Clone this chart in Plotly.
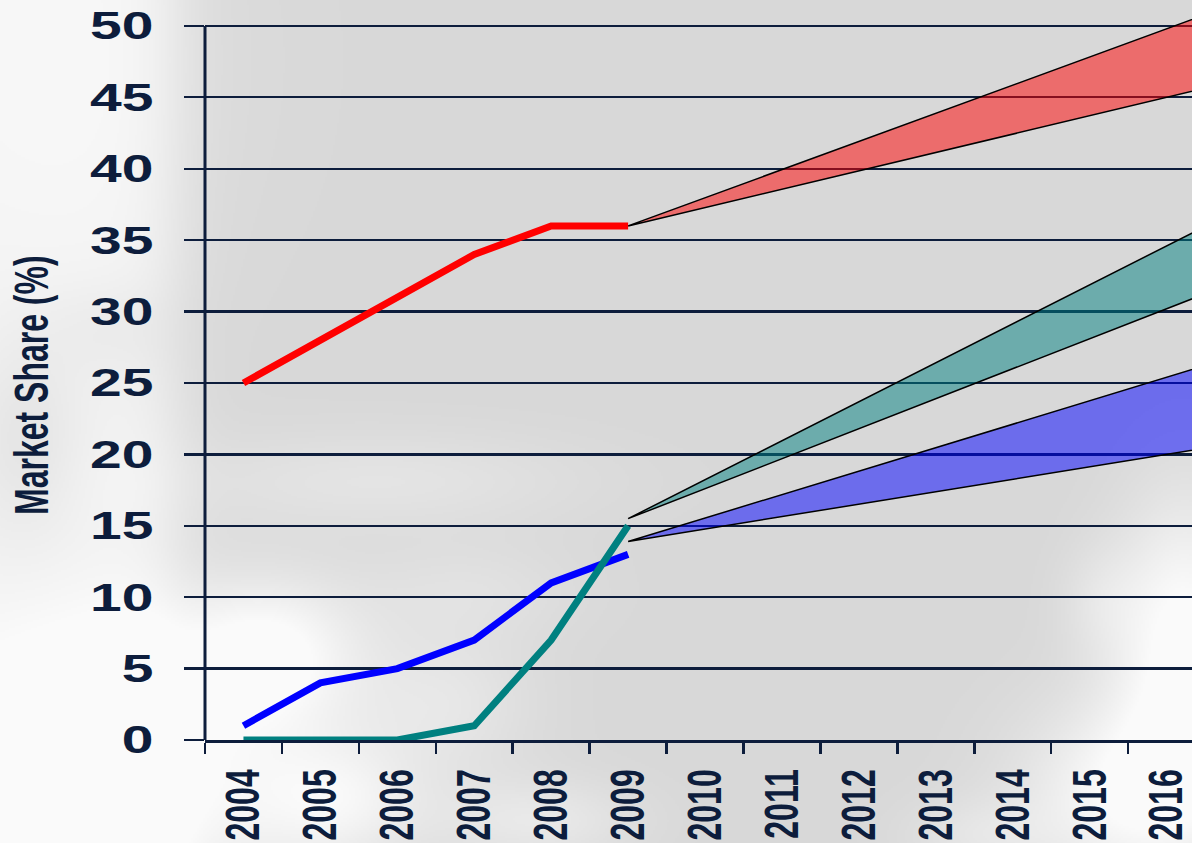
import base64
import struct
import zlib

import numpy as np
import plotly.graph_objects as go

# ---- data -------------------------------------------------------------
years = [2004, 2005, 2006, 2007, 2008, 2009]
red_share = [25, 28, 31, 34, 36, 36]
blue_share = [1, 4, 5, 7, 11, 13]
teal_share = [0, 0, 0, 1, 7, 15]

# forecast fans: value at the start year, and the low / high value reached in the end year
forecast_from = 2009
forecast_to = 2016
red_fan = [36, 45, 49.8]
teal_fan = [15.5, 30.2, 34.6]
blue_fan = [13.9, 20.0, 25.4]

tick_years = list(range(2004, 2017))
y_ticks = list(range(0, 51, 5))

# ---- style ------------------------------------------------------------
W, H = 1192, 843
ML, MB = 205, 103
NAVY = "#0d1d3c"
FONT = "Arial, Liberation Sans, sans-serif"
X_MIN, X_MAX = 2003.5, 2016.33
Y_MAX = 51.82
FAN_EDGE = 2016.8  # fans run on past the right edge of the plot


def sky_png(w, h, scale):
    """Soft grey sky with pale cloud banks, encoded as a greyscale PNG data URI."""
    xs = (np.arange(w) + 0.5) * scale
    ys = (np.arange(h) + 0.5) * scale
    X, Y = np.meshgrid(xs, ys)
    L = np.full((h, w), 216.0)

    def blob(cx, cy, sx, sy, amp):
        return amp * np.exp(-(((X - cx) / sx) ** 2 + ((Y - cy) / sy) ** 2) / 2)

    # pale left margin
    L += 26 / (1 + np.exp((X - 175) / 18))
    L += blob(60, 60, 150, 180, 6)
    # grey wisps behind the axis title
    L += blob(25, 440, 40, 70, -13)
    L += blob(110, 330, 50, 35, -7)
    # cloud bank bottom-left
    L += blob(265, 650, 65, 50, 32)
    L += blob(150, 775, 150, 100, 34)
    L += blob(340, 800, 55, 40, 18)
    # faint haze left of centre
    L += blob(380, 480, 150, 35, 12)
    L += blob(470, 590, 80, 35, 9)
    L += blob(450, 700, 60, 50, 12)
    L += blob(540, 820, 70, 30, 16)
    # cloud bank bottom-right
    L += blob(1185, 640, 50, 100, 38)
    L += blob(1140, 790, 80, 65, 36)
    L += blob(1100, 600, 30, 40, 10)
    L += blob(980, 835, 55, 28, 12)
    L = np.clip(L, 0, 250).astype(np.uint8)

    raw = b"".join(b"\x00" + L[i].tobytes() for i in range(h))

    def chunk(tag, data):
        body = tag + data
        return struct.pack(">I", len(data)) + body + struct.pack(">I", zlib.crc32(body) & 0xFFFFFFFF)

    png = (b"\x89PNG\r\n\x1a\n"
           + chunk(b"IHDR", struct.pack(">IIBBBBB", w, h, 8, 0, 0, 0, 0))
           + chunk(b"IDAT", zlib.compress(raw, 9))
           + chunk(b"IEND", b""))
    return "data:image/png;base64," + base64.b64encode(png).decode()


def fan_polygon(fan):
    start, low, high = fan
    span = forecast_to - forecast_from
    hi_edge = start + (high - start) * (FAN_EDGE - forecast_from) / span
    lo_edge = start + (low - start) * (FAN_EDGE - forecast_from) / span
    xs = [forecast_from, FAN_EDGE, FAN_EDGE, forecast_from]
    ys = [start, hi_edge, lo_edge, start]
    return xs, ys


fig = go.Figure()

series = [
    ("red", red_share, red_fan, "#ff0000", "rgba(255,0,0,0.5)"),
    ("teal", teal_share, teal_fan, "#008080", "rgba(0,128,128,0.5)"),
    ("blue", blue_share, blue_fan, "#0000ff", "rgba(0,0,255,0.5)"),
]

for name, vals, fan, col, fill in series:
    fx, fy = fan_polygon(fan)
    fig.add_trace(go.Scatter(
        x=fx, y=fy, mode="lines", fill="toself", fillcolor=fill,
        line=dict(color="black", width=1.5), hoverinfo="skip", showlegend=False,
    ))

for name, vals, fan, col, fill in [series[2], series[1], series[0]]:
    fig.add_trace(go.Scatter(
        x=years, y=vals, mode="lines", name=name,
        line=dict(color=col, width=7), showlegend=False,
    ))

plot_w = W - ML
plot_h = H - MB

fig.update_layout(
    width=W, height=H,
    margin=dict(l=ML, r=0, t=0, b=MB, pad=0, autoexpand=False),
    paper_bgcolor="#d9d9d9",
    plot_bgcolor="rgba(0,0,0,0)",
    showlegend=False,
    images=[dict(
        source=sky_png(W // 2, H // 2 + 1, 2),
        xref="paper", yref="paper",
        x=-ML / plot_w, y=1.0,
        sizex=W / plot_w, sizey=(H + 2) / plot_h,
        xanchor="left", yanchor="top",
        sizing="stretch", layer="below",
    )],
    xaxis=dict(
        range=[X_MIN, X_MAX],
        tickmode="array", tickvals=tick_years, ticktext=[str(y) for y in tick_years],
        ticks="", tickangle=-90,
        tickfont=dict(family=FONT, size=32, color=NAVY, weight="bold"),
        ticklabelstandoff=14,
        showgrid=False, zeroline=False, automargin=False,
        showline=True, linecolor=NAVY, linewidth=2.5,
        minor=dict(tickmode="array", tickvals=[y - 0.5 for y in tick_years] + [2016.5],
                   ticks="outside", ticklen=11, tickwidth=2.5, tickcolor=NAVY, showgrid=False),
        fixedrange=True,
    ),
    yaxis=dict(
        range=[0, Y_MAX],
        tickmode="array", tickvals=y_ticks, ticktext=[str(v) for v in y_ticks],
        ticks="outside", ticklen=20, tickwidth=2.2, tickcolor=NAVY,
        tickfont=dict(family=FONT, size=38, color=NAVY, weight="bold"),
        ticklabelstandoff=23,
        showgrid=True, gridcolor=NAVY, gridwidth=2.2,
        zeroline=False, showline=False, automargin=False,
        fixedrange=True,
    ),
    shapes=[dict(type="line", xref="paper", yref="y", x0=0, x1=0, y0=0, y1=50,
                 line=dict(color=NAVY, width=3))],
    annotations=[dict(
        text="Market Share (%)", textangle=-90, showarrow=False,
        xref="paper", yref="paper",
        x=(32 - ML) / plot_w, y=1 - 385 / plot_h,
        xanchor="center", yanchor="middle",
        font=dict(family=FONT, size=32, color=NAVY, weight="bold"),
    )],
)

# widen the lettering horizontally, as on the slide the chart comes from
post = """
var gd = document.getElementById('{plot_id}');
function widen(el, sx, sy, anchorRight) {
  var bb = el.getBBox();
  var ax = anchorRight ? bb.x + bb.width : bb.x + bb.width / 2;
  var ay = bb.y + bb.height / 2;
  var t = el.getAttribute('transform') || '';
  el.setAttribute('transform', t + ' translate(' + ax + ',' + ay + ') scale(' + sx + ',' + sy + ') translate(' + (-ax) + ',' + (-ay) + ')');
}
gd.querySelectorAll('.ytick text').forEach(function (el) { widen(el, 1.5, 1, true); });
gd.querySelectorAll('.xtick text').forEach(function (el) { widen(el, 1, 1.5, false); });
gd.querySelectorAll('.annotation-text').forEach(function (el) { widen(el, 1, 1.5, false); });
"""

fig.write_html("out.html", post_script=post, config={"staticPlot": True})
